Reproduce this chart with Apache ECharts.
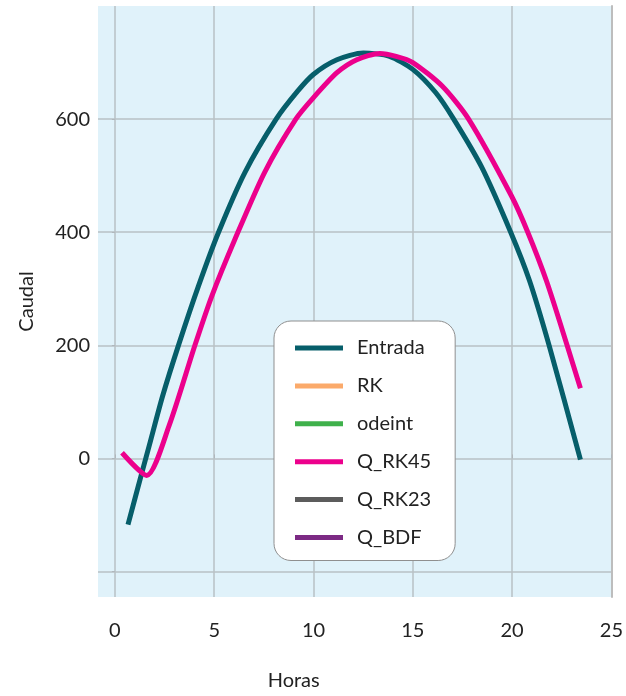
<!DOCTYPE html>
<html>
<head>
<meta charset="utf-8">
<script src="https://cdn.jsdelivr.net/npm/echarts@6/dist/echarts.min.js"></script>
<style>html,body{margin:0;padding:0;background:#fff}#c{width:626px;height:696px}</style>
</head>
<body>
<div id="c"></div>
<script>
// Data (Horas, Caudal)
const entrada = [[0.66,-117],[1.33,-29],[1.74,24],[2.40,110],[3.23,203],[4.22,306],[5.22,400],[6.55,506],[8.12,600],[9.19,649],[9.99,679],[11.18,705],[12.51,717],[13.83,711],[15.0,688],[16.15,647],[17.06,600],[18.47,515],[19.93,400],[20.87,315],[21.87,199],[23.44,-2]];
const rk = [];
const odeint = [];
const qRK45 = [[0.36,10],[1.6,-30],[2.73,58],[4.03,200],[4.89,288],[6.05,388],[7.54,506],[9.11,600],[10.0,638],[11.18,682],[12.18,705],[13.34,716],[14.16,711],[15.0,700],[16.49,658],[17.81,600],[19.97,464],[20.79,400],[21.75,312],[22.78,199],[23.44,124]];
const qRK23 = [];
const qBDF = [];
const xTicks = [0,5,10,15,20,25];
const yTicks = [-200,0,200,400,600];
const yLabels = [0,200,400,600];
const seriesNames = ['Entrada','RK','odeint','Q_RK45','Q_RK23','Q_BDF'];
const seriesData = [entrada, rk, odeint, qRK45, qRK23, qBDF];
const colors = ['#065e6a','#fbaa6b','#3fb14b','#ec008c','#5c5c5c','#7c2a84'];

const font = 'Lato, "Open Sans", sans-serif';
const chart = echarts.init(document.getElementById('c'), null, {renderer:'canvas'});
chart.setOption({
  animation: false,
  color: colors,
  grid: {left: 98, right: 8, top: 6, bottom: 97, show: true, backgroundColor: '#e0f2fa', borderWidth: 0},
  xAxis: {
    type: 'value', min: -0.85, max: 25,
    name: 'Horas', nameLocation: 'middle', nameGap: 74,
    nameTextStyle: {fontFamily: font, fontSize: 20, color: '#222', padding: [0,122,0,0]},
    axisLine: {show: false},
    axisTick: {show: true, inside: true, length: 4, customValues: xTicks, lineStyle: {color: '#b0b7bc'}},
    axisLabel: {customValues: xTicks, showMaxLabel: true, showMinLabel: true, margin: 24, fontFamily: font, fontSize: 20, color: '#222'},
    splitLine: {show: true, lineStyle: {color: '#b9c0c5', width: 1.5}}
  },
  yAxis: [{
    type: 'value', min: -245, max: 800,
    name: 'Caudal', nameLocation: 'middle', nameGap: 61,
    nameTextStyle: {fontFamily: font, fontSize: 20, color: '#222'},
    axisLine: {show: false},
    axisTick: {show: true, length: 3, customValues: yTicks, lineStyle: {color: '#b0b7bc'}},
    axisLabel: {customValues: yLabels, margin: 8, fontFamily: font, fontSize: 20, color: '#222'},
    splitLine: {show: true, lineStyle: {color: '#b9c0c5', width: 1.5}}
  },{
    type: 'value', min: -245, max: 800, position: 'right',
    axisLine: {show: true, lineStyle: {color: '#bdbdbd', width: 2}},
    axisTick: {show: false}, axisLabel: {show: false}, splitLine: {show: false}
  }],
  legend: {
    data: seriesNames,
    orient: 'vertical', left: 274, top: 321,
    padding: [15, 24, 11, 21],
    itemWidth: 48, itemHeight: 5, itemGap: 13.9,
    icon: 'rect',
    backgroundColor: '#ffffff', borderColor: '#8f8f8f', borderWidth: 1, borderRadius: 17,
    textStyle: {fontFamily: font, fontSize: 20, color: '#222', lineHeight: 24, padding: [0,0,0,9]}
  },
  series: seriesNames.map((n, i) => ({
    name: n, type: 'line', data: seriesData[i], showSymbol: false, symbol: 'none',
    smooth: 0.25,
    lineStyle: {width: 5, color: colors[i]}, itemStyle: {color: colors[i]},
    z: i === 3 ? 4 : 3
  }))
});
</script>
</body>
</html>
